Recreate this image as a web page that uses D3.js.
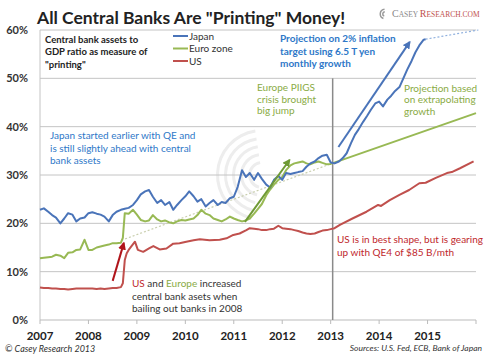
<!DOCTYPE html>
<html>
<head>
<meta charset="utf-8">
<script src="https://cdn.jsdelivr.net/npm/d3@7"></script>
<style>
  body { margin: 0; background: #fff; }
  svg { font-family: Lato, "Open Sans", sans-serif; }
</style>
</head>
<body>
<svg id="chart" width="492" height="360"></svg>
<script>
// values: [decimal year, % of GDP]
var japan = [
  [2007.00,22.8],[2007.08,23.1],[2007.17,22.4],[2007.25,21.7],[2007.33,21.2],[2007.42,20.0],
  [2007.50,21.0],[2007.58,22.1],[2007.67,21.8],[2007.75,20.4],[2007.83,21.0],[2007.92,21.2],
  [2008.00,22.1],[2008.08,22.3],[2008.17,22.0],[2008.25,21.8],[2008.33,21.4],[2008.42,20.4],
  [2008.50,21.7],[2008.58,22.4],[2008.67,22.8],[2008.75,23.0],[2008.83,23.2],[2008.92,23.8],
  [2009.00,24.8],[2009.08,26.0],[2009.17,26.6],[2009.25,26.9],[2009.33,25.5],[2009.42,24.2],
  [2009.50,24.8],[2009.58,23.8],[2009.67,24.4],[2009.75,22.8],[2009.83,23.8],[2009.92,24.8],
  [2010.00,25.6],[2010.08,26.6],[2010.17,25.6],[2010.25,24.5],[2010.33,25.0],[2010.42,23.5],
  [2010.50,24.2],[2010.58,24.8],[2010.67,23.8],[2010.75,24.4],[2010.83,24.2],[2010.92,25.2],
  [2011.00,25.5],[2011.08,27.5],[2011.17,31.0],[2011.25,29.6],[2011.33,30.4],[2011.42,29.0],
  [2011.50,30.4],[2011.58,29.2],[2011.67,28.0],[2011.75,27.4],[2011.83,29.0],[2011.92,29.8],
  [2012.00,29.0],[2012.08,30.4],[2012.17,30.2],[2012.25,30.4],[2012.33,30.6],[2012.42,30.8],
  [2012.50,31.7],[2012.58,32.4],[2012.67,32.8],[2012.75,33.5],[2012.83,34.0],[2012.92,34.2],
  [2013.00,32.6],[2013.08,32.4],[2013.17,32.8],[2013.25,33.5],[2013.33,34.5],[2013.42,36.6],
  [2013.50,38.3],[2013.58,39.5],[2013.67,41.0],[2013.75,42.2],[2013.83,43.5],[2013.92,44.8],
  [2014.00,45.2],[2014.08,44.2],[2014.17,45.6],[2014.25,46.4],[2014.33,47.4],[2014.42,48.2],
  [2014.50,50.0],[2014.58,51.8],[2014.67,53.6],[2014.75,55.4],[2014.83,56.8],[2014.92,58.0],
  [2014.96,58.1]
]

var euro = [
  [2007.00,12.8],[2007.08,12.9],[2007.17,13.0],[2007.25,13.1],[2007.33,13.5],[2007.42,13.3],
  [2007.50,12.8],[2007.58,13.9],[2007.67,14.0],[2007.75,14.5],[2007.83,14.6],[2007.92,16.6],
  [2008.00,14.5],[2008.08,14.5],[2008.17,15.0],[2008.25,15.2],[2008.33,15.4],[2008.42,15.6],
  [2008.50,15.9],[2008.58,15.9],[2008.67,16.0],[2008.71,17.0],[2008.75,22.1],[2008.83,22.0],
  [2008.92,22.8],[2009.00,21.8],[2009.08,20.7],[2009.17,20.4],[2009.25,20.6],[2009.33,21.7],
  [2009.42,20.8],[2009.50,20.4],[2009.58,20.6],[2009.67,20.2],[2009.75,20.0],[2009.83,20.4],
  [2009.92,20.7],[2010.00,20.6],[2010.08,20.8],[2010.17,21.0],[2010.25,21.7],[2010.33,22.8],
  [2010.42,22.0],[2010.50,21.7],[2010.58,21.0],[2010.67,20.7],[2010.75,20.4],[2010.83,20.8],
  [2010.92,21.4],[2011.00,21.0],[2011.08,20.7],[2011.17,20.4],[2011.25,20.6],[2011.33,21.0],
  [2011.42,22.0],[2011.50,23.0],[2011.58,24.0],[2011.67,25.8],[2011.75,27.0],[2011.83,28.0],
  [2011.92,29.0],[2012.00,29.6],[2012.08,31.0],[2012.17,32.0],[2012.25,32.4],[2012.33,32.6],
  [2012.42,32.8],[2012.50,32.4],[2012.58,32.2],[2012.67,32.6],[2012.75,32.8],[2012.83,32.5],
  [2012.92,32.2],[2013.00,32.3],[2016.00,42.8]
]

var us = [
  [2007.00,6.7],[2007.08,6.6],[2007.17,6.6],[2007.25,6.5],[2007.33,6.5],[2007.42,6.4],
  [2007.50,6.4],[2007.58,6.3],[2007.67,6.4],[2007.75,6.5],[2007.83,6.5],[2007.92,6.5],
  [2008.00,6.5],[2008.08,6.5],[2008.17,6.4],[2008.25,6.5],[2008.33,6.4],[2008.42,6.5],
  [2008.50,6.6],[2008.58,6.6],[2008.67,6.8],[2008.71,7.6],[2008.75,12.4],[2008.79,13.8],
  [2008.83,14.5],[2008.96,16.2],[2009.02,14.5],[2009.13,14.1],[2009.25,14.8],[2009.34,15.3],
  [2009.47,14.6],[2009.61,14.8],[2009.75,15.8],[2009.88,15.9],[2010.02,16.2],[2010.17,16.5],
  [2010.30,16.7],[2010.50,16.5],[2010.71,16.6],[2010.85,16.9],[2010.99,17.6],[2011.12,17.9],
  [2011.26,18.6],[2011.33,19.0],[2011.42,18.9],[2011.50,18.8],[2011.58,18.6],[2011.67,18.6],
  [2011.75,18.8],[2011.83,18.9],[2011.92,19.5],[2012.00,19.0],[2012.08,18.9],[2012.17,18.8],
  [2012.25,18.6],[2012.33,18.4],[2012.42,18.1],[2012.50,17.9],[2012.58,17.8],[2012.67,17.9],
  [2012.75,18.2],[2012.83,18.5],[2012.92,18.6],[2013.00,18.8],[2013.08,19.0],[2013.19,19.7],
  [2013.45,21.0],[2013.74,22.4],[2013.98,23.8],[2014.04,23.6],[2014.22,24.8],[2014.42,25.9],
  [2014.62,26.9],[2014.83,28.3],[2014.96,28.4],[2015.17,29.4],[2015.40,30.4],[2015.50,30.6],
  [2015.67,31.4],[2015.95,32.8]
]

var japanDotted = [[2014.96,58.1],[2016.05,60.0]]
var trendDotted = [[2008.68,16.5],[2013.0,32.3]]

var blueArrow = [[2013.16,35.8],[2014.63,57.5]]
var greenArrow = [[2011.23,20.3],[2012.15,33.1]]
var redArrow = [[2008.50,8.1],[2008.73,15.9]]

var yTicks = [0, 10, 20, 30, 40, 50, 60]
var xLabels = [2007, 2008, 2009, 2010, 2011, 2012, 2013, 2014, 2015]
var xTickMarks = [2007, 2008, 2009, 2010, 2011, 2012, 2013, 2014, 2015, 2016]

var legendNames = ["Japan", "Euro zone", "US"]
var colors = ["#4a74b9", "#98b954", "#c0504d"]

var svg = d3.select("#chart")

var x = d3.scaleLinear().domain([2007, 2016]).range([40, 476])
var y = d3.scaleLinear().domain([0, 60]).range([320, 30])

var line = d3.line().x(d => x(d[0])).y(d => y(d[1]))

// watermark (concentric arcs of the logo)
var wm = svg.append("g").attr("transform", "translate(262,175)")
;[14, 22, 30, 38, 46].forEach(function (r) {
  wm.append("path")
    .attr("d", d3.arc()({ innerRadius: r - 3, outerRadius: r, startAngle: -2.9, endAngle: -0.15 }))
    .attr("fill", "#ededed")
})

// grid lines
svg.selectAll(".grid").data(yTicks.slice(1)).enter().append("line")
  .attr("x1", x(2007)).attr("x2", x(2016))
  .attr("y1", d => y(d)).attr("y2", d => y(d))
  .attr("stroke", "#c4c4c4").attr("stroke-width", 1)

// y axis
svg.append("line").attr("x1", x(2007)).attr("x2", x(2007)).attr("y1", y(60)).attr("y2", y(0))
  .attr("stroke", "#c4c4c4")
svg.selectAll(".ylab").data(yTicks).enter().append("text")
  .attr("x", 28).attr("y", d => y(d) + 4)
  .attr("text-anchor", "end").attr("font-size", 11).attr("font-weight", "bold")
  .attr("fill", "#333").text(d => d + "%")

// x axis
svg.append("line").attr("x1", x(2007)).attr("x2", x(2016)).attr("y1", y(0)).attr("y2", y(0))
  .attr("stroke", "#bbb")
svg.selectAll(".xtick").data(xTickMarks).enter().append("line")
  .attr("x1", d => x(d)).attr("x2", d => x(d)).attr("y1", y(0)).attr("y2", y(0) + 4)
  .attr("stroke", "#bbb")
svg.selectAll(".xlab").data(xLabels).enter().append("text")
  .attr("x", d => x(d)).attr("y", 340)
  .attr("text-anchor", "middle").attr("font-size", 11.5).attr("font-weight", "bold")
  .attr("fill", "#222").text(d => d)

// 2013 divider
svg.append("line").attr("x1", x(2013) + 2).attr("x2", x(2013) + 2).attr("y1", y(50)).attr("y2", y(0))
  .attr("stroke", "#8a8a8a").attr("stroke-width", 1.5)

// dotted projections
svg.append("path").attr("d", line(trendDotted)).attr("fill", "none")
  .attr("stroke", "#c9cfae").attr("stroke-width", 1.2).attr("stroke-dasharray", "2,2")
svg.append("path").attr("d", line(japanDotted)).attr("fill", "none")
  .attr("stroke", "#8fb0de").attr("stroke-width", 1.2).attr("stroke-dasharray", "2,2")

// series
svg.selectAll(".series").data([us, euro, japan]).enter().append("path")
  .attr("d", line).attr("fill", "none")
  .attr("stroke", (d, i) => colors[2 - i]).attr("stroke-width", 2)
  .attr("stroke-linejoin", "round")

// arrows
var defs = svg.append("defs")
function arrow(pts, col, id) {
  defs.append("marker").attr("id", id).attr("viewBox", "0 0 10 10")
    .attr("refX", 8).attr("refY", 5).attr("markerWidth", 4).attr("markerHeight", 4)
    .attr("orient", "auto")
    .append("path").attr("d", "M0,0L10,5L0,10z").attr("fill", col)
  svg.append("path").attr("d", line(pts)).attr("stroke", col).attr("stroke-width", 2)
    .attr("fill", "none").attr("marker-end", "url(#" + id + ")")
}
arrow(blueArrow, "#4a74b9", "ab")
arrow(greenArrow, "#6f9a35", "ag")
arrow(redArrow, "#b0141a", "ar")

// legend
legendNames.forEach(function (name, i) {
  var ly = 36 + i * 12.5
  svg.append("line").attr("x1", 173).attr("x2", 188).attr("y1", ly).attr("y2", ly)
    .attr("stroke", colors[i]).attr("stroke-width", 2)
  svg.append("text").attr("x", 189).attr("y", ly + 3.5).attr("font-size", 10)
    .attr("fill", "#333").text(name)
})

// text blocks
function block(lines, x0, y0, opts) {
  var t = svg.append("text").attr("x", x0).attr("y", y0)
    .attr("font-size", opts.size || 10).attr("fill", opts.color || "#333")
    .attr("font-weight", opts.weight || "normal")
    .attr("font-style", opts.style || "normal")
  lines.forEach(function (l, i) {
    t.append("tspan").attr("x", x0).attr("dy", i == 0 ? 0 : (opts.lh || 12.3)).text(l)
  })
  return t
}

svg.append("text").attr("x", 37).attr("y", 24).attr("font-size", 17.5).attr("font-weight", "bold")
  .attr("fill", "#222").text('All Central Banks Are "Printing" Money!')

block(["Central bank assets to", "GDP ratio as measure of", '"printing"'], 45, 43,
  { size: 9.5, weight: "bold", color: "#222" })
block(["Projection on 2% inflation", "target using 6.5 T yen", "monthly growth"], 280, 42,
  { size: 10, weight: "bold", color: "#2e78c8", lh: 12.5 })
block(["Europe PIIGS", "crisis brought", "big jump"], 257, 91,
  { size: 10, color: "#8aab45", lh: 11.7 })
block(["Projection based", "on extrapolating", "growth"], 404, 92,
  { size: 10, color: "#8aab45", lh: 11.3 })
block(["Japan started earlier with QE and", "is still slightly ahead with central", "bank assets"], 50, 139,
  { size: 10, color: "#2e78c8", lh: 12.5 })
block(["US is in best shape, but is  gearing", "up with QE4 of $85 B/mth"], 337, 243,
  { size: 10, color: "#c0282d", lh: 13 })

var us2008 = svg.append("text").attr("x", 132).attr("y", 287).attr("font-size", 10).attr("fill", "#333")
us2008.append("tspan").attr("fill", "#c0282d").text("US")
us2008.append("tspan").text(" and ")
us2008.append("tspan").attr("fill", "#8aab45").text("Europe")
us2008.append("tspan").text(" increased")
block(["central bank asets when", "bailing out banks in 2008"], 132, 299.5, { size: 10, color: "#333" })

svg.append("text").attr("x", 5).attr("y", 352).attr("font-size", 9).attr("font-style", "italic")
  .attr("fill", "#333").text("© Casey Research 2013")
svg.append("text").attr("x", 482).attr("y", 351).attr("text-anchor", "end").attr("font-size", 8.5)
  .attr("font-style", "italic").attr("fill", "#333").text("Sources:  U.S. Fed, ECB, Bank of Japan")

// logo
var logo = svg.append("g")
;[3, 5.5].forEach(function (r) {
  logo.append("path").attr("transform", "translate(385,14)")
    .attr("d", d3.arc()({ innerRadius: r - 1.5, outerRadius: r, startAngle: -2.8, endAngle: -0.1 }))
    .attr("fill", "#999")
})
var lt = logo.append("text").attr("x", 392).attr("y", 17)
  .attr("font-family", "'Liberation Serif', serif").attr("font-size", 10)
lt.append("tspan").attr("fill", "#888").text("C")
lt.append("tspan").attr("fill", "#888").attr("font-size", 7.5).text("ASEY ")
lt.append("tspan").attr("fill", "#c0504d").text("R")
lt.append("tspan").attr("fill", "#c0504d").attr("font-size", 7.5).text("ESEARCH.COM")
</script>
</body>
</html>
